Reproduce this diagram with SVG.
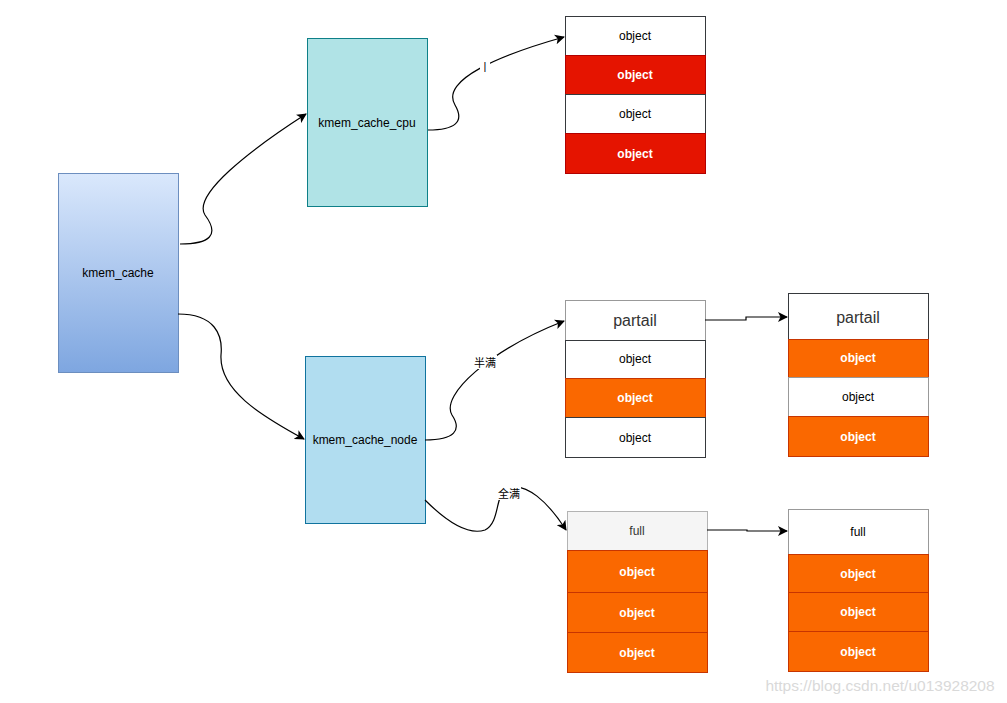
<svg xmlns="http://www.w3.org/2000/svg" width="1007" height="703" viewBox="0 0 1007 703">
<defs>
<linearGradient id="gBlue" x1="0" y1="0" x2="0" y2="1">
<stop offset="0" stop-color="#dae8fc"/>
<stop offset="1" stop-color="#7ea6e0"/>
</linearGradient>
<marker id="arr" viewBox="0 0 10 10" refX="9" refY="5" markerWidth="10" markerHeight="10" markerUnits="userSpaceOnUse" orient="auto">
<path d="M0,0 L10,5 L0,10 L2.5,5 Z" fill="#000"/>
</marker>
</defs>
<style>
text{font-family:"Liberation Sans",Arial,sans-serif;font-size:12px;text-anchor:middle;dominant-baseline:central}
.w{fill:#fff;stroke:#36393d}
.r{fill:#e51400;stroke:#b20000}
.o{fill:#fa6800;stroke:#c73500}
.g{fill:#f5f5f5;stroke:#b3b3b3}
.hw{fill:#fff;stroke:#999}
.wt{fill:#fff;font-weight:bold}
.bt{fill:#000}
.big{font-size:16px;fill:#333}
.edge{fill:none;stroke:#000;stroke-width:1.2;marker-end:url(#arr)}
.lbl{font-size:11px}
</style>
<rect width="1007" height="703" fill="#fff"/>

<g id="kmem_cache">
<rect x="58.5" y="173.5" width="120" height="199" fill="url(#gBlue)" stroke="#6c8ebf"/>
<text x="118" y="273">kmem_cache</text>
</g>
<g id="kmem_cache_cpu">
<rect x="307.5" y="38.5" width="120" height="168" fill="#b0e3e6" stroke="#0e8088"/>
<text x="367" y="123">kmem_cache_cpu</text>
</g>
<g id="kmem_cache_node">
<rect x="305.5" y="356.5" width="120" height="167" fill="#b1ddf0" stroke="#10739e"/>
<text x="365" y="440">kmem_cache_node</text>
</g>

<g id="cpu_objects">
<rect class="w" x="565.5" y="16.5" width="140" height="39"/>
<text class="bt" x="635" y="36">object</text>
<rect class="r" x="565.5" y="55.5" width="140" height="39"/>
<text class="wt" x="635" y="75">object</text>
<rect class="w" x="565.5" y="94.5" width="140" height="39"/>
<text class="bt" x="635" y="114">object</text>
<rect class="r" x="565.5" y="133.5" width="140" height="40"/>
<text class="wt" x="635" y="154">object</text>
</g>

<g id="partial1">
<rect class="hw" x="565.5" y="300.5" width="140" height="40"/>
<text class="big" x="635" y="320">partail</text>
<rect class="w" x="565.5" y="340.5" width="140" height="38"/>
<text class="bt" x="635" y="359">object</text>
<rect class="o" x="565.5" y="378.5" width="140" height="39"/>
<text class="wt" x="635" y="398">object</text>
<rect class="w" x="565.5" y="417.5" width="140" height="40"/>
<text class="bt" x="635" y="438">object</text>
</g>

<g id="partial2">
<rect class="w" x="788.5" y="293.5" width="140" height="46"/>
<text class="big" x="858" y="317">partail</text>
<rect class="o" x="788.5" y="339.5" width="140" height="38"/>
<text class="wt" x="858" y="358">object</text>
<rect class="hw" x="788.5" y="377.5" width="140" height="39"/>
<text class="bt" x="858" y="397">object</text>
<rect class="o" x="788.5" y="416.5" width="140" height="40"/>
<text class="wt" x="858" y="437">object</text>
</g>

<g id="full1">
<rect class="g" x="567.5" y="511.5" width="140" height="39"/>
<text x="637" y="531" fill="#333">full</text>
<rect class="o" x="567.5" y="550.5" width="140" height="42"/>
<text class="wt" x="637" y="572">object</text>
<rect class="o" x="567.5" y="592.5" width="140" height="40"/>
<text class="wt" x="637" y="613">object</text>
<rect class="o" x="567.5" y="632.5" width="140" height="40"/>
<text class="wt" x="637" y="653">object</text>
</g>

<g id="full2">
<rect class="hw" x="788.5" y="509.5" width="140" height="45"/>
<text class="bt" x="858" y="532">full</text>
<rect class="o" x="788.5" y="554.5" width="140" height="38"/>
<text class="wt" x="858" y="574">object</text>
<rect class="o" x="788.5" y="592.5" width="140" height="39"/>
<text class="wt" x="858" y="612">object</text>
<rect class="o" x="788.5" y="631.5" width="140" height="40"/>
<text class="wt" x="858" y="652">object</text>
</g>

<g id="connectors">
<path class="edge" d="M180,244 C210,244 220,235 205,215 C192,195 250,150 306,114"/>
<path class="edge" d="M178,314 C215,314 223,335 221,355 C219,390 260,415 304,439"/>
<path class="edge" d="M428,130 C455,130 465,122 455,105 C440,80 500,55 564,37"/>
<path class="edge" d="M425,440 C455,440 462,430 452,415 C440,395 490,350 564,321"/>
<path class="edge" d="M425,500 C450,525 470,535 485,530 C500,522 495,497 505,490 C525,478 550,505 566,530"/>
<path class="edge" d="M705,320 L746,320 L746,317 L787,317"/>
<path class="edge" d="M707,530 L747,530 L747,531 L787,531"/>
<rect x="480" y="59" width="10" height="14" fill="#fff"/>
<text class="lbl" x="485" y="66">|</text>
<rect x="473" y="355" width="24" height="14" fill="#fff"/>
<text class="lbl" x="485" y="362" style="font-family:'Noto Sans CJK SC',sans-serif">半满</text>
<rect x="497" y="486" width="24" height="14" fill="#fff"/>
<text class="lbl" x="509" y="493" style="font-family:'Noto Sans CJK SC',sans-serif">全满</text>
</g>

<text x="880" y="685" style="font-size:15.5px;fill:#d9d9d9">https://blog.csdn.net/u013928208</text>
</svg>
